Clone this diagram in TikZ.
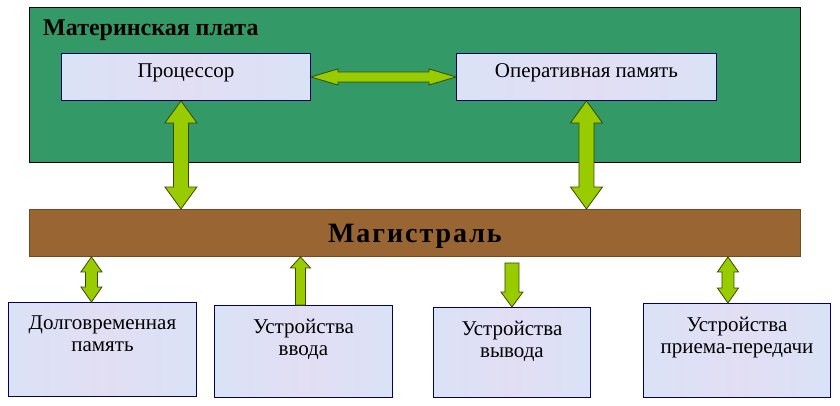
\documentclass[tikz,border=0pt]{standalone}
\usepackage{fontspec}
\setmainfont{Liberation Serif}
\usetikzlibrary{positioning, calc}

\definecolor{boardgreen}{RGB}{51,153,102}
\definecolor{busbrown}{RGB}{153,102,51}
\definecolor{busedge}{RGB}{120,72,30}
\definecolor{arrowgreen}{RGB}{153,204,0}
\definecolor{arrowedge}{RGB}{55,75,0}
\definecolor{boxfill}{RGB}{218,226,246}
\definecolor{boxtint}{RGB}{226,222,244}
\definecolor{boxedge}{RGB}{0,0,102}

% block arrows: #1 first end, #2 second end, #3 half shaft, #4 half head, #5 head length
\newcommand{\vdblarrow}[5]{%
  \draw[fatarrow] (#1) -- ++(#4,#5) -- ++(#3-#4,0) -- ($(#2)+(#3,-#5)$) -- ++(#4-#3,0)
    -- (#2) -- ++(-#4,-#5) -- ++(#4-#3,0) -- ($(#1)+(-#3,#5)$) -- ++(#3-#4,0) -- cycle;}
\newcommand{\hdblarrow}[5]{%
  \draw[fatarrow] (#1) -- ++(#5,-#4) -- ++(0,#4-#3) -- ($(#2)+(-#5,-#3)$) -- ++(0,#3-#4)
    -- (#2) -- ++(-#5,#4) -- ++(0,#3-#4) -- ($(#1)+(#5,#3)$) -- ++(0,#4-#3) -- cycle;}
\newcommand{\uparrowblk}[5]{%
  \draw[fatarrow] (#1) -- ++(#4,#5) -- ++(#3-#4,0) -- ($(#2)+(#3,0)$) -- ++(-2*#3,0)
    -- ($(#1)+(-#3,#5)$) -- ++(#3-#4,0) -- cycle;}
\newcommand{\downarrowblk}[5]{%
  \draw[fatarrow] ($(#1)+(-#3,0)$) -- ++(2*#3,0) -- ($(#2)+(#3,-#5)$) -- ++(#4-#3,0)
    -- (#2) -- ++(-#4,-#5) -- ++(#4-#3,0) -- cycle;}

\tikzset{
  board/.style={draw=black, fill=boardgreen, line width=0.9pt, anchor=north west, inner sep=0pt},
  bus/.style={draw=busedge, fill=busbrown, line width=0.9pt, anchor=north west, inner sep=0pt},
  unit/.style={draw=boxedge, line width=0.9pt, anchor=north west, inner sep=0pt,
    left color=boxfill, right color=boxfill, middle color=boxtint,
    font=\fontsize{21}{22}\selectfont},
  unittext/.style={font=\fontsize{21}{22}\selectfont, align=center, inner sep=0pt},
  fatarrow/.style={draw=arrowedge, fill=arrowgreen, line width=0.8pt, line join=miter},
}

\begin{document}
\begin{tikzpicture}[x=1pt, y=-1pt]
        \useasboundingbox (0,0) rectangle (840,405);

        % ==========================================
        % Motherboard
        % ==========================================
        \node[board, minimum width=771, minimum height=155] (board) at (29,7) {};
        \node[anchor=base west, inner sep=0pt, font=\fontsize{24}{26}\selectfont\bfseries]
              (boardtitle) at (43,35) {Материнская плата};

        \node[unit, minimum width=249, minimum height=47, text height=14, text depth=12]
              (cpu) at (61,53) {Процессор};
        \node[unit, minimum width=260, minimum height=47, text height=14, text depth=12]
              (ram) at (456,53) {Оперативная память};

        % ==========================================
        % Bus
        % ==========================================
        \node[bus, minimum width=771, minimum height=47] (bus) at (29,209) {};
        \node[anchor=base, inner sep=0pt,
              font=\fontsize{28}{30}\selectfont\bfseries\addfontfeature{LetterSpace=7}]
              (bustitle) at ($(bus.south)+(0,-14)$) {Магистраль};

        % ==========================================
        % Peripheral units
        % ==========================================
        \node[unit, minimum width=188, minimum height=94] (ltm) at (8,302) {};
        \node[unittext, below=14pt of ltm.north] (ltmtext) {Долговременная\\память};

        \node[unit, minimum width=178, minimum height=92] (inp) at (214,305) {};
        \node[unittext, below=14pt of inp.north] (inptext) {Устройства\\ввода};

        \node[unit, minimum width=157, minimum height=90] (outp) at (433,307) {};
        \node[unittext, below=14pt of outp.north] (outptext) {Устройства\\вывода};

        \node[unit, minimum width=187, minimum height=94] (net) at (643,303) {};
        \node[unittext, below=14pt of net.north] (nettext) {Устройства\\приема-передачи};

        % ==========================================
        % Arrows
        % ==========================================
        \hdblarrow{cpu.east}{ram.west}{5}{8}{27}

        \coordinate (cpuport) at ($(cpu.south)+(-5,0)$);
        \vdblarrow{cpuport}{cpuport |- bus.north}{7.5}{16}{22}
        \vdblarrow{ram.south}{ram.south |- bus.north}{7.5}{16}{22}

        \coordinate (ltmport) at ($(ltm.north)+(-11,0)$);
        \vdblarrow{ltmport |- bus.south}{ltmport}{6}{10.5}{15}

        \coordinate (inport) at ($(inp.north)+(-3,0)$);
        \uparrowblk{inport |- bus.south}{inport}{5}{10}{11}

        \coordinate (outtail) at ($(bus.south -| outp.north)+(0,6)$);
        \downarrowblk{outtail}{outp.north}{7}{11}{15}

        \coordinate (netport) at ($(net.north)+(-9,0)$);
        \vdblarrow{netport |- bus.south}{netport}{6}{10.5}{15}

    \end{tikzpicture}
\end{document}
